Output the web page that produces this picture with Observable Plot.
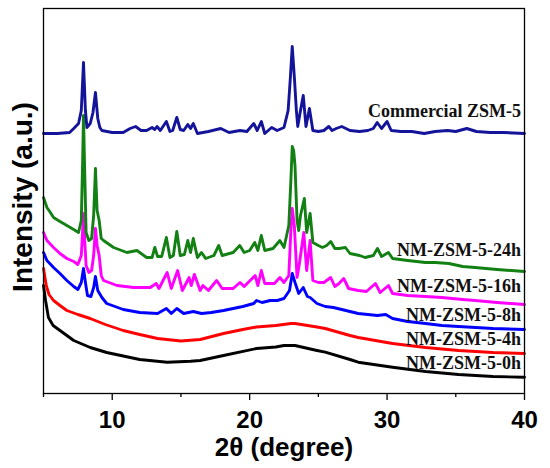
<!DOCTYPE html>
<html>
<head>
<meta charset="utf-8">
<script src="https://cdn.jsdelivr.net/npm/d3@7"></script>
<script src="https://cdn.jsdelivr.net/npm/@observablehq/plot@0.6"></script>
<style>
  body { margin: 0; background: #fff; }
  #chart svg { display: block; background: #fff; }
</style>
</head>
<body>
<div id="chart"></div>
<script>
// 2θ (degree), intensity (a.u., stacked with offsets)
const commercial = [[5,260],[6,260],[6.9,261],[7.2,265],[7.55,270],[7.75,283],[7.91,331],[8.05,283],[8.16,266],[8.4,270],[8.6,281],[8.78,301],[8.95,275],[9.1,266],[9.25,263],[10,261],[10.8,261],[11.3,265],[11.7,267],[12.1,263],[12.5,263],[12.9,266],[13.1,264],[13.26,267],[13.5,263],[13.94,272],[14.2,262],[14.4,263],[14.7,276],[14.95,264],[15.2,263],[15.5,269],[15.7,265],[15.9,270],[16.2,260],[17,262],[17.9,265],[18.5,261],[19.3,263],[19.8,262],[20.3,270],[20.55,263],[20.85,272],[21.1,260],[21.6,266],[22,263],[22.5,266],[22.8,283],[22.95,313],[23.1,347],[23.26,315],[23.4,283],[23.5,267],[23.7,283],[23.9,298],[24.1,267],[24.35,285],[24.6,263],[25,262],[25.4,263],[25.76,267],[26,263],[26.3,265],[26.7,267],[27.3,263],[28,262],[28.6,263],[29,265],[29.28,271],[29.6,265],[30,272],[30.3,263],[31,262],[31.8,262],[32.7,260],[33.5,262],[34.4,263],[35,262],[35.8,265],[36.5,262],[37.5,261],[38.5,261],[40,260]];

const nm24h = [[5,196],[5.25,186],[5.5,181],[5.73,176],[6.2,172],[6.7,168],[7.2,164],[7.55,161],[7.75,173],[7.85,233],[7.91,278],[7.98,233],[8.1,161],[8.3,153],[8.5,155],[8.65,178],[8.78,225],[8.9,183],[9.05,173],[9.2,155],[9.37,153],[10.1,146],[11.07,141],[11.8,143],[12.5,136],[12.9,136],[13.1,146],[13.3,137],[13.6,137],[13.94,156],[14.2,136],[14.45,138],[14.7,162],[14.95,138],[15.25,139],[15.5,153],[15.7,141],[15.9,155],[16.2,136],[16.5,141],[16.8,135],[17.4,138],[17.75,148],[18,138],[18.8,141],[19.28,148],[19.6,141],[20,143],[20.37,151],[20.6,143],[20.85,158],[21.1,143],[21.7,145],[22.2,153],[22.5,146],[22.85,168],[23,213],[23.1,247],[23.2,243],[23.3,228],[23.45,173],[23.57,163],[23.7,178],[23.98,195],[24.15,161],[24.4,180],[24.6,151],[25,148],[25.3,146],[25.6,148],[25.9,152],[26.2,145],[26.5,145],[26.97,146],[27.3,140],[28,138],[28.4,136],[29,138],[29.3,145],[29.6,137],[30.1,141],[30.4,135],[31.5,133],[32.8,131],[33.5,131],[34.5,130],[35.5,127],[36.4,126],[38,124],[40,122]];

const nm16h = [[5,161],[5.25,153],[5.73,146],[6.2,140],[6.7,135],[7.2,132],[7.5,129],[7.75,138],[7.85,163],[7.91,180],[7.98,158],[8.1,128],[8.3,121],[8.5,123],[8.65,138],[8.78,165],[8.9,148],[9.05,138],[9.2,118],[9.37,113],[10.35,108],[11.55,106],[12.77,106],[13.2,110],[13.4,105],[14,121],[14.3,105],[14.76,123],[15.1,103],[15.6,116],[15.75,108],[15.98,119],[16.4,103],[16.6,108],[17,103],[17.6,113],[18,105],[18.8,105],[19.3,111],[19.6,107],[20.4,118],[20.6,108],[20.85,123],[21.1,110],[21.8,110],[22.2,116],[22.5,111],[22.85,118],[23,163],[23.1,185],[23.25,168],[23.45,116],[23.6,128],[23.94,161],[24.15,123],[24.4,153],[24.6,113],[25,111],[25.4,111],[25.9,116],[26.2,107],[26.5,110],[26.85,115],[27.2,105],[27.9,103],[28.5,102],[29.15,110],[29.5,101],[30.1,108],[30.4,100],[31.5,98],[32.8,97],[34,96],[35.5,94],[36.4,93],[38,91],[40,89]];

const nm8h = [[5,141],[5.25,133],[5.73,126],[6.2,120],[6.7,113],[7.2,107],[7.5,104],[7.75,111],[7.91,125],[8.05,111],[8.2,98],[8.45,97],[8.65,106],[8.78,117],[8.95,103],[9.25,96],[9.6,90],[10.8,84],[12,81],[13.3,80],[13.94,85],[14.3,80],[14.7,85],[15.2,80],[15.9,82],[16.5,80],[17.2,81],[18.1,83],[18.8,85],[19.5,87],[20.3,90],[20.5,93],[20.9,91],[21.5,93],[22,93],[22.5,95],[22.9,103],[23.1,120],[23.3,111],[23.57,100],[23.9,106],[24.2,97],[24.4,96],[24.9,90],[25.5,87],[26.1,86],[27.3,82],[27.9,80],[29.3,78],[29.9,79],[30.4,75],[31.5,72],[32.8,70],[34,68],[35.2,67],[37.7,65],[40,64]];

const nm4h = [[5,125],[5.2,108],[5.4,99],[5.73,93],[6.2,88],[6.7,83],[7.5,79],[8.4,75],[9.5,69],[10.8,63],[12,59],[13.3,55],[15,52.5],[16.4,54],[18.1,60],[19.5,64],[20.5,66.5],[21.9,68],[23,70],[23.3,70],[24.9,66.5],[25.5,65],[27.3,58],[27.9,56],[30.4,50],[32.8,46],[35.2,43],[37.7,41],[40,40]];

const nm0h = [[5,108],[5.15,93],[5.36,76],[5.7,68],[6.2,63],[7.2,53],[8.4,46],[9.6,41],[10.8,37.5],[12,34],[14,31.3],[15.7,32.3],[16.4,33],[18.1,38],[20.5,45],[21.9,46.5],[22.5,48],[23.3,48],[24.9,43],[25.5,41.3],[27.3,34],[27.9,31.3],[30.4,26.3],[32.8,22],[35.2,19],[37.7,17],[40,16.3]];

const seriesNames  = ["NM-ZSM-5-0h", "NM-ZSM-5-4h", "NM-ZSM-5-8h", "NM-ZSM-5-16h", "NM-ZSM-5-24h", "Commercial ZSM-5"];
const seriesData   = [nm0h, nm4h, nm8h, nm16h, nm24h, commercial];
const seriesColors = ["#000000", "#ff0000", "#0000ff", "#ff00ff", "#128012", "#14149b"];
const labelTheta     = [39.75, 39.75, 39.75, 39.75, 39.75, 39.75];
const labelIntensity = [30.5, 54, 78, 107, 143.5, 282];

const majorTicks = [10, 20, 30, 40];
const minorTicks = [5, 15, 25, 35];
const xTitle = "2θ (degree)";
const yTitle = "Intensity (a.u.)";

const rows = seriesData.flatMap((arr, i) => arr.map(([t, v]) => ({theta: t, intensity: v, series: seriesNames[i]})));
const labels = seriesNames.map((name, i) => ({name, theta: labelTheta[i], intensity: labelIntensity[i]}));

const sansBold = "Liberation Sans, Arial, Helvetica, sans-serif";
const serif = "Liberation Serif, Times New Roman, serif";

const chart = Plot.plot({
  width: 550,
  height: 468,
  marginLeft: 43,
  marginRight: 26,
  marginTop: 8,
  marginBottom: 75,
  x: {domain: [5, 40]},
  y: {domain: [0, 385], axis: null},
  color: {domain: seriesNames, range: seriesColors},
  marks: [
    ...seriesNames.map(name => Plot.line(rows.filter(d => d.series === name), {
      x: "theta", y: "intensity", stroke: "series",
      strokeWidth: 2.9, strokeLinejoin: "round", strokeLinecap: "round"
    })),
    Plot.text(labels, {
      x: "theta", y: "intensity", text: "name", textAnchor: "end", lineAnchor: "middle",
      fontSize: 18, fontWeight: "bold", fontFamily: serif, fill: "#111"
    }),
    Plot.frame({stroke: "#000", strokeWidth: 1.3}),
    Plot.axisX(minorTicks, {tickSize: 4, strokeWidth: 1.3, tickFormat: () => "", label: null}),
    Plot.axisX(majorTicks, {
      tickSize: 7, tickPadding: 10, strokeWidth: 1.3, tickFormat: d => String(d), label: null,
      fontSize: 24, fontWeight: "bold", fontFamily: sansBold, fill: "#000"
    }),
    Plot.text([xTitle], {
      frameAnchor: "bottom", textAnchor: "middle", lineAnchor: "bottom", dy: 62,
      fontSize: 26, fontWeight: "bold", fontFamily: sansBold, fill: "#000"
    }),
    Plot.text([yTitle], {
      frameAnchor: "left", textAnchor: "middle", rotate: -90, lineAnchor: "middle", dx: -20, dy: -4,
      fontSize: 28, fontWeight: "bold", fontFamily: sansBold, fill: "#000"
    })
  ]
});
document.getElementById("chart").appendChild(chart);
</script>
</body>
</html>
